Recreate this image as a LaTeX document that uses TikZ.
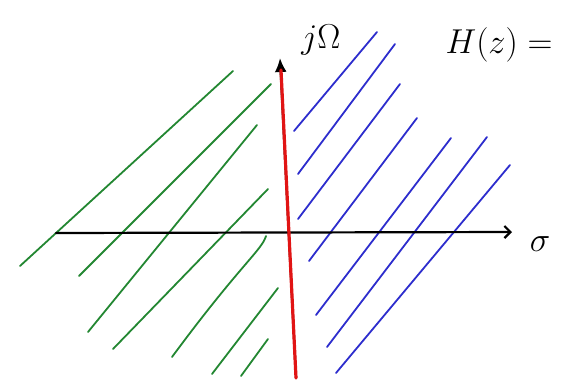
\documentclass[tikz,border=0pt]{standalone}
\usetikzlibrary{arrows.meta}
\definecolor{lhp}{RGB}{35,135,50}
\definecolor{rhp}{RGB}{45,45,205}
\definecolor{jw}{RGB}{225,20,20}

\begin{document}
\begin{tikzpicture}[x=0.5pt,y=-0.5pt,line cap=round,
  hatchl/.style={lhp,line width=0.9pt},
  hatchr/.style={rhp,line width=0.9pt},
  axis/.style={black,line width=1.1pt},
  lbl/.style={font=\fontsize{18}{20}\selectfont,inner sep=0pt}]
  \useasboundingbox (0,0) rectangle (563,381);
  % left half plane: green hatching
  \foreach \xa/\ya/\xb/\yb in {20/266/233/71, 79/276/271/84, 88/332/257/125,
      113/349/268/189, 212/374/278/288, 241/376/268/339}
    \draw[hatchl] (\xa,\ya) -- (\xb,\yb);
  \draw[hatchl] (172,357) .. controls (240,265) and (262,250) .. (266,236);
  % right half plane: blue hatching
  \foreach \xa/\ya/\xb/\yb in {294/131/377/32, 298/174/395/44, 298/219/400/84,
      309/261/417/118, 316/315/451/138, 327/347/487/137, 336/373/510/165}
    \draw[hatchr] (\xa,\ya) -- (\xb,\yb);
  % axes
  \coordinate (west) at (56,233);
  \coordinate (east) at (512,232);
  \coordinate (south) at (296,378);
  \coordinate (north) at (280,58);
  \coordinate (redtop) at (281,70);
  \draw[axis,-{Straight Barb[length=3pt,width=6pt]}] (west) -- (east);
  \draw[axis,-{Latex[length=7pt,width=6pt]}] (south) -- (north);
  \draw[jw,line width=1.6pt] (south) -- (redtop);
  \node[lbl] (sig) at (540,244) {$\sigma$};
  \node[lbl] (om) at (321,40) {$j\Omega$};
  \node[lbl] (hz) at (499,45) {$H(z) =$};
\end{tikzpicture}
\end{document}
